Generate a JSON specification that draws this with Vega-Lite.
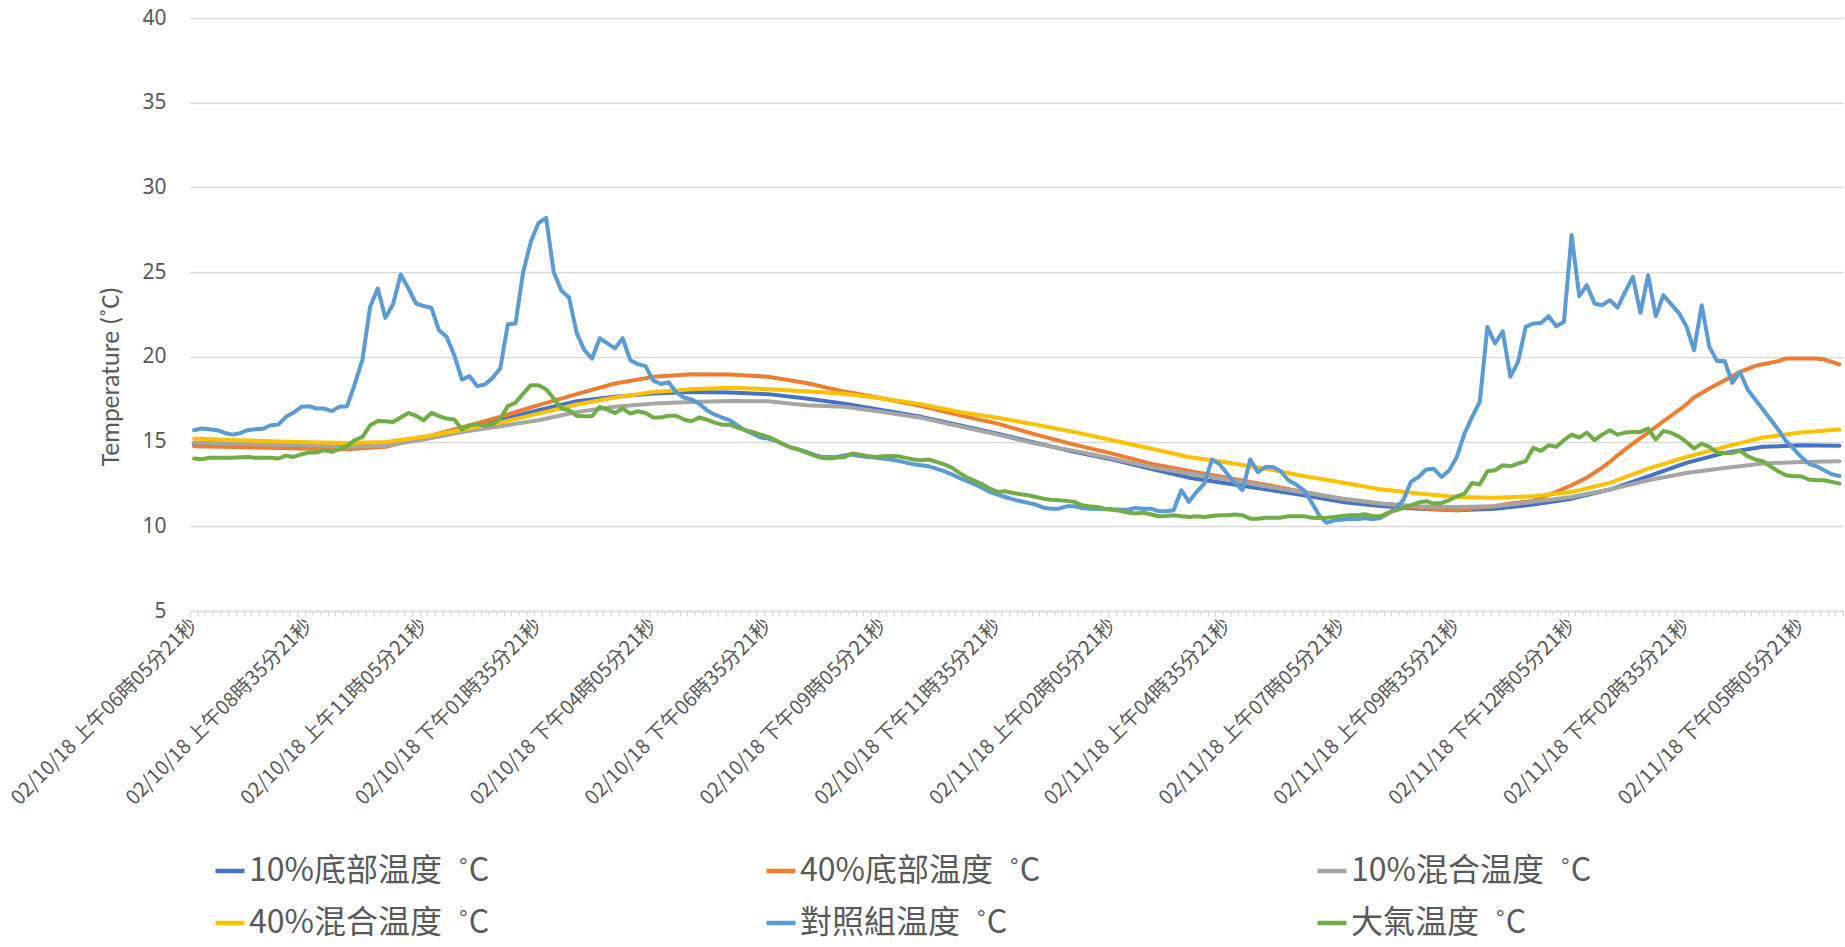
{
  "$schema": "https://vega.github.io/schema/vega-lite/v6.json",
  "autosize": {"type": "none"},
  "padding": {"left": 190, "top": 18, "right": 2, "bottom": 336},
  "width": 1653,
  "height": 593,
  "background": "white",
  "config": {"view": {"stroke": null}, "font": "Noto Sans CJK TC"},
  "data": {"values": [
    {"t":"2018-02-10T06:05:21Z","e":15.67,"f":14.0,"a":14.85,"b":14.72,"c":14.94,"d":15.18},
    {"t":"2018-02-10T06:15:21Z","e":15.77,"f":13.96},
    {"t":"2018-02-10T06:25:21Z","e":15.73,"f":14.04},
    {"t":"2018-02-10T06:35:21Z","e":15.67,"f":14.04},
    {"t":"2018-02-10T06:45:21Z","e":15.51,"f":14.04},
    {"t":"2018-02-10T06:55:21Z","e":15.41,"f":14.04,"a":14.8,"b":14.68,"c":14.88,"d":15.1},
    {"t":"2018-02-10T07:05:21Z","e":15.5,"f":14.07},
    {"t":"2018-02-10T07:15:21Z","e":15.67,"f":14.09},
    {"t":"2018-02-10T07:25:21Z","e":15.73,"f":14.05},
    {"t":"2018-02-10T07:35:21Z","e":15.75,"f":14.04},
    {"t":"2018-02-10T07:45:21Z","e":15.96,"f":14.04,"a":14.75,"b":14.63,"c":14.82,"d":15.02},
    {"t":"2018-02-10T07:55:21Z","e":16.0,"f":14.0},
    {"t":"2018-02-10T08:05:21Z","e":16.46,"f":14.17},
    {"t":"2018-02-10T08:15:21Z","e":16.71,"f":14.09},
    {"t":"2018-02-10T08:25:21Z","e":17.05,"f":14.25},
    {"t":"2018-02-10T08:35:21Z","e":17.09,"f":14.35,"a":14.7,"b":14.57,"c":14.78,"d":14.96},
    {"t":"2018-02-10T08:45:21Z","e":16.95,"f":14.35},
    {"t":"2018-02-10T08:55:21Z","e":16.95,"f":14.49},
    {"t":"2018-02-10T09:05:21Z","e":16.8,"f":14.39},
    {"t":"2018-02-10T09:15:21Z","e":17.05,"f":14.55},
    {"t":"2018-02-10T09:25:21Z","e":17.09,"f":14.74,"a":14.7,"b":14.55,"c":14.7,"d":14.92},
    {"t":"2018-02-10T09:35:21Z","e":18.4,"f":15.08},
    {"t":"2018-02-10T09:45:21Z","e":19.84,"f":15.28},
    {"t":"2018-02-10T09:55:21Z","e":22.95,"f":15.96},
    {"t":"2018-02-10T10:05:21Z","e":24.04,"f":16.22},
    {"t":"2018-02-10T10:15:21Z","e":22.3,"f":16.2,"a":14.82,"b":14.69,"c":14.76,"d":14.98},
    {"t":"2018-02-10T10:25:21Z","e":23.1,"f":16.16},
    {"t":"2018-02-10T10:35:21Z","e":24.86,"f":16.42},
    {"t":"2018-02-10T10:45:21Z","e":24.04,"f":16.69},
    {"t":"2018-02-10T10:55:21Z","e":23.15,"f":16.52},
    {"t":"2018-02-10T11:05:21Z","e":23.0,"f":16.26,"a":15.25,"b":15.24,"c":15.12,"d":15.28},
    {"t":"2018-02-10T11:15:21Z","e":22.9,"f":16.69},
    {"t":"2018-02-10T11:25:21Z","e":21.57,"f":16.5},
    {"t":"2018-02-10T11:35:21Z","e":21.18,"f":16.36},
    {"t":"2018-02-10T11:45:21Z","e":20.1,"f":16.3},
    {"t":"2018-02-10T11:55:21Z","e":18.66,"f":15.71,"a":15.77,"b":15.83,"c":15.57,"d":15.7},
    {"t":"2018-02-10T12:05:21Z","e":18.86,"f":15.96},
    {"t":"2018-02-10T12:15:21Z","e":18.27,"f":16.02},
    {"t":"2018-02-10T12:25:21Z","e":18.37,"f":15.93},
    {"t":"2018-02-10T12:35:21Z","e":18.76,"f":16.02},
    {"t":"2018-02-10T12:45:21Z","e":19.31,"f":16.36,"a":16.26,"b":16.46,"c":15.9,"d":16.12},
    {"t":"2018-02-10T12:55:21Z","e":21.93,"f":17.09},
    {"t":"2018-02-10T13:05:21Z","e":21.97,"f":17.3},
    {"t":"2018-02-10T13:15:21Z","e":25.0,"f":17.83},
    {"t":"2018-02-10T13:25:21Z","e":26.8,"f":18.33},
    {"t":"2018-02-10T13:35:21Z","e":27.9,"f":18.33,"a":16.85,"b":17.15,"c":16.26,"d":16.65},
    {"t":"2018-02-10T13:45:21Z","e":28.2,"f":18.09},
    {"t":"2018-02-10T13:55:21Z","e":25.0,"f":17.54},
    {"t":"2018-02-10T14:05:21Z","e":23.9,"f":16.95},
    {"t":"2018-02-10T14:15:21Z","e":23.5,"f":16.85},
    {"t":"2018-02-10T14:25:21Z","e":21.4,"f":16.52,"a":17.38,"b":17.8,"c":16.75,"d":17.19},
    {"t":"2018-02-10T14:35:21Z","e":20.4,"f":16.5},
    {"t":"2018-02-10T14:45:21Z","e":19.9,"f":16.5},
    {"t":"2018-02-10T14:55:21Z","e":21.1,"f":17.05},
    {"t":"2018-02-10T15:05:21Z","e":20.8,"f":16.89},
    {"t":"2018-02-10T15:15:21Z","e":20.5,"f":16.69,"a":17.64,"b":18.43,"c":17.05,"d":17.6},
    {"t":"2018-02-10T15:25:21Z","e":21.1,"f":16.95},
    {"t":"2018-02-10T15:35:21Z","e":19.8,"f":16.65},
    {"t":"2018-02-10T15:45:21Z","e":19.57,"f":16.79},
    {"t":"2018-02-10T15:55:21Z","e":19.45,"f":16.69},
    {"t":"2018-02-10T16:05:21Z","e":18.6,"f":16.42,"a":17.83,"b":18.82,"c":17.24,"d":17.93},
    {"t":"2018-02-10T16:15:21Z","e":18.4,"f":16.42},
    {"t":"2018-02-10T16:25:21Z","e":18.5,"f":16.52},
    {"t":"2018-02-10T16:35:21Z","e":17.9,"f":16.52},
    {"t":"2018-02-10T16:45:21Z","e":17.6,"f":16.3},
    {"t":"2018-02-10T16:55:21Z","e":17.48,"f":16.2,"a":17.93,"b":18.98,"c":17.34,"d":18.09},
    {"t":"2018-02-10T17:05:21Z","e":17.24,"f":16.42},
    {"t":"2018-02-10T17:15:21Z","e":16.85,"f":16.3},
    {"t":"2018-02-10T17:25:21Z","e":16.6,"f":16.12},
    {"t":"2018-02-10T17:35:21Z","e":16.42,"f":16.0},
    {"t":"2018-02-10T17:45:21Z","e":16.26,"f":16.0,"a":17.89,"b":18.96,"c":17.4,"d":18.17},
    {"t":"2018-02-10T17:55:21Z","e":15.96,"f":15.83},
    {"t":"2018-02-10T18:05:21Z","e":15.67,"f":15.67},
    {"t":"2018-02-10T18:15:21Z","e":15.47,"f":15.57},
    {"t":"2018-02-10T18:25:21Z","e":15.24,"f":15.41},
    {"t":"2018-02-10T18:35:21Z","e":15.18,"f":15.28,"a":17.8,"b":18.82,"c":17.38,"d":18.09},
    {"t":"2018-02-10T18:45:21Z","e":15.04,"f":15.08},
    {"t":"2018-02-10T18:55:21Z","e":14.84,"f":14.84},
    {"t":"2018-02-10T19:05:21Z","e":14.65,"f":14.65},
    {"t":"2018-02-10T19:15:21Z","e":14.53,"f":14.53},
    {"t":"2018-02-10T19:25:21Z","e":14.39,"f":14.35,"a":17.54,"b":18.46,"c":17.15,"d":17.97},
    {"t":"2018-02-10T19:35:21Z","e":14.23,"f":14.19},
    {"t":"2018-02-10T19:45:21Z","e":14.09,"f":14.04},
    {"t":"2018-02-10T19:55:21Z","e":14.09,"f":14.0},
    {"t":"2018-02-10T20:05:21Z","e":14.09,"f":14.06},
    {"t":"2018-02-10T20:15:21Z","e":14.2,"f":14.09,"a":17.24,"b":17.95,"c":17.05,"d":17.82},
    {"t":"2018-02-10T20:25:21Z","e":14.23,"f":14.29},
    {"t":"2018-02-10T20:35:21Z","e":14.15,"f":14.23},
    {"t":"2018-02-10T20:45:21Z","e":14.09,"f":14.15},
    {"t":"2018-02-10T20:55:21Z","e":14.06,"f":14.09},
    {"t":"2018-02-10T21:05:21Z","e":14.0,"f":14.13,"a":16.85,"b":17.54,"c":16.75,"d":17.54},
    {"t":"2018-02-10T21:15:21Z","e":13.94,"f":14.15},
    {"t":"2018-02-10T21:25:21Z","e":13.86,"f":14.13},
    {"t":"2018-02-10T21:35:21Z","e":13.76,"f":14.04},
    {"t":"2018-02-10T21:45:21Z","e":13.66,"f":13.94},
    {"t":"2018-02-10T21:55:21Z","e":13.6,"f":13.9,"a":16.46,"b":17.09,"c":16.4,"d":17.2},
    {"t":"2018-02-10T22:05:21Z","e":13.54,"f":13.94},
    {"t":"2018-02-10T22:15:21Z","e":13.4,"f":13.8},
    {"t":"2018-02-10T22:25:21Z","e":13.25,"f":13.66},
    {"t":"2018-02-10T22:35:21Z","e":13.07,"f":13.46},
    {"t":"2018-02-10T22:45:21Z","e":12.85,"f":13.15,"a":15.96,"b":16.56,"c":15.9,"d":16.75},
    {"t":"2018-02-10T22:55:21Z","e":12.66,"f":12.87},
    {"t":"2018-02-10T23:05:21Z","e":12.48,"f":12.68},
    {"t":"2018-02-10T23:15:21Z","e":12.26,"f":12.48},
    {"t":"2018-02-10T23:25:21Z","e":12.03,"f":12.22},
    {"t":"2018-02-10T23:35:21Z","e":11.87,"f":12.03,"a":15.47,"b":16.06,"c":15.41,"d":16.4},
    {"t":"2018-02-10T23:45:21Z","e":11.73,"f":12.07},
    {"t":"2018-02-10T23:55:21Z","e":11.59,"f":11.97},
    {"t":"2018-02-11T00:05:21Z","e":11.48,"f":11.89},
    {"t":"2018-02-11T00:15:21Z","e":11.38,"f":11.83},
    {"t":"2018-02-11T00:25:21Z","e":11.28,"f":11.73,"a":14.92,"b":15.41,"c":14.88,"d":16.0},
    {"t":"2018-02-11T00:35:21Z","e":11.1,"f":11.63},
    {"t":"2018-02-11T00:45:21Z","e":11.04,"f":11.57},
    {"t":"2018-02-11T00:55:21Z","e":11.04,"f":11.54},
    {"t":"2018-02-11T01:05:21Z","e":11.18,"f":11.5},
    {"t":"2018-02-11T01:15:21Z","e":11.18,"f":11.44,"a":14.39,"b":14.82,"c":14.45,"d":15.57},
    {"t":"2018-02-11T01:25:21Z","e":11.08,"f":11.24},
    {"t":"2018-02-11T01:35:21Z","e":11.04,"f":11.18},
    {"t":"2018-02-11T01:45:21Z","e":11.04,"f":11.14},
    {"t":"2018-02-11T01:55:21Z","e":11.0,"f":11.04},
    {"t":"2018-02-11T02:05:21Z","e":11.0,"f":10.98,"a":13.94,"b":14.29,"c":14.0,"d":15.08},
    {"t":"2018-02-11T02:15:21Z","e":10.98,"f":10.91},
    {"t":"2018-02-11T02:25:21Z","e":10.98,"f":10.81},
    {"t":"2018-02-11T02:35:21Z","e":11.08,"f":10.75},
    {"t":"2018-02-11T02:45:21Z","e":11.04,"f":10.81},
    {"t":"2018-02-11T02:55:21Z","e":11.04,"f":10.71,"a":13.4,"b":13.7,"c":13.5,"d":14.59},
    {"t":"2018-02-11T03:05:21Z","e":10.89,"f":10.59},
    {"t":"2018-02-11T03:15:21Z","e":10.89,"f":10.61},
    {"t":"2018-02-11T03:25:21Z","e":10.95,"f":10.65},
    {"t":"2018-02-11T03:35:21Z","e":12.13,"f":10.59},
    {"t":"2018-02-11T03:45:21Z","e":11.44,"f":10.55,"a":12.87,"b":13.27,"c":13.11,"d":14.09},
    {"t":"2018-02-11T03:55:21Z","e":12.03,"f":10.59},
    {"t":"2018-02-11T04:05:21Z","e":12.52,"f":10.55},
    {"t":"2018-02-11T04:15:21Z","e":13.94,"f":10.61},
    {"t":"2018-02-11T04:25:21Z","e":13.66,"f":10.65},
    {"t":"2018-02-11T04:35:21Z","e":13.1,"f":10.65,"a":12.52,"b":12.87,"c":12.76,"d":13.76},
    {"t":"2018-02-11T04:45:21Z","e":12.56,"f":10.69},
    {"t":"2018-02-11T04:55:21Z","e":12.13,"f":10.65},
    {"t":"2018-02-11T05:05:21Z","e":13.94,"f":10.45},
    {"t":"2018-02-11T05:15:21Z","e":13.2,"f":10.45},
    {"t":"2018-02-11T05:25:21Z","e":13.5,"f":10.51,"a":12.19,"b":12.46,"c":12.36,"d":13.4},
    {"t":"2018-02-11T05:35:21Z","e":13.5,"f":10.51},
    {"t":"2018-02-11T05:45:21Z","e":13.25,"f":10.51},
    {"t":"2018-02-11T05:55:21Z","e":12.72,"f":10.59},
    {"t":"2018-02-11T06:05:21Z","e":12.46,"f":10.59},
    {"t":"2018-02-11T06:15:21Z","e":12.13,"f":10.59,"a":11.83,"b":12.03,"c":11.99,"d":12.97},
    {"t":"2018-02-11T06:25:21Z","e":11.44,"f":10.51},
    {"t":"2018-02-11T06:35:21Z","e":10.65,"f":10.49},
    {"t":"2018-02-11T06:45:21Z","e":10.2,"f":10.51},
    {"t":"2018-02-11T06:55:21Z","e":10.35,"f":10.55},
    {"t":"2018-02-11T07:05:21Z","e":10.39,"f":10.61,"a":11.44,"b":11.63,"c":11.63,"d":12.58},
    {"t":"2018-02-11T07:15:21Z","e":10.45,"f":10.65},
    {"t":"2018-02-11T07:25:21Z","e":10.41,"f":10.65},
    {"t":"2018-02-11T07:35:21Z","e":10.49,"f":10.71},
    {"t":"2018-02-11T07:45:21Z","e":10.41,"f":10.59},
    {"t":"2018-02-11T07:55:21Z","e":10.49,"f":10.59,"a":11.2,"b":11.34,"c":11.34,"d":12.19},
    {"t":"2018-02-11T08:05:21Z","e":10.75,"f":10.79},
    {"t":"2018-02-11T08:15:21Z","e":11.04,"f":10.94},
    {"t":"2018-02-11T08:25:21Z","e":11.54,"f":11.08},
    {"t":"2018-02-11T08:35:21Z","e":12.62,"f":11.24},
    {"t":"2018-02-11T08:45:21Z","e":12.91,"f":11.4,"a":11.04,"b":11.08,"c":11.18,"d":11.93},
    {"t":"2018-02-11T08:55:21Z","e":13.35,"f":11.48},
    {"t":"2018-02-11T09:05:21Z","e":13.4,"f":11.34},
    {"t":"2018-02-11T09:15:21Z","e":12.91,"f":11.38},
    {"t":"2018-02-11T09:25:21Z","e":13.3,"f":11.54},
    {"t":"2018-02-11T09:35:21Z","e":14.09,"f":11.77,"a":10.94,"b":10.94,"c":11.14,"d":11.73},
    {"t":"2018-02-11T09:45:21Z","e":15.47,"f":11.93},
    {"t":"2018-02-11T09:55:21Z","e":16.46,"f":12.56},
    {"t":"2018-02-11T10:05:21Z","e":17.34,"f":12.46},
    {"t":"2018-02-11T10:15:21Z","e":21.77,"f":13.25},
    {"t":"2018-02-11T10:25:21Z","e":20.79,"f":13.31,"a":11.04,"b":11.2,"c":11.18,"d":11.69},
    {"t":"2018-02-11T10:35:21Z","e":21.5,"f":13.6},
    {"t":"2018-02-11T10:45:21Z","e":18.82,"f":13.54,"b":11.34},
    {"t":"2018-02-11T10:55:21Z","e":19.7,"f":13.7},
    {"t":"2018-02-11T11:05:21Z","e":21.77,"f":13.84},
    {"t":"2018-02-11T11:15:21Z","e":21.97,"f":14.63,"a":11.28,"b":11.5,"c":11.44,"d":11.77},
    {"t":"2018-02-11T11:25:21Z","e":22.0,"f":14.45},
    {"t":"2018-02-11T11:35:21Z","e":22.4,"f":14.78},
    {"t":"2018-02-11T11:45:21Z","e":21.81,"f":14.69,"b":12.03},
    {"t":"2018-02-11T11:55:21Z","e":22.07,"f":15.08},
    {"t":"2018-02-11T12:05:21Z","e":27.19,"f":15.41,"a":11.63,"b":12.42,"c":11.73,"d":12.03},
    {"t":"2018-02-11T12:15:21Z","e":23.58,"f":15.24},
    {"t":"2018-02-11T12:25:21Z","e":24.23,"f":15.53,"b":12.87},
    {"t":"2018-02-11T12:35:21Z","e":23.15,"f":15.08},
    {"t":"2018-02-11T12:45:21Z","e":23.05,"f":15.41,"b":13.46},
    {"t":"2018-02-11T12:55:21Z","e":23.35,"f":15.67,"a":12.17,"b":13.8,"c":12.17,"d":12.56},
    {"t":"2018-02-11T13:05:21Z","e":22.91,"f":15.41,"b":14.19},
    {"t":"2018-02-11T13:15:21Z","e":23.84,"f":15.53},
    {"t":"2018-02-11T13:25:21Z","e":24.72,"f":15.57,"b":14.88},
    {"t":"2018-02-11T13:35:21Z","e":22.6,"f":15.57},
    {"t":"2018-02-11T13:45:21Z","e":24.82,"f":15.77,"a":12.95,"b":15.53,"c":12.72,"d":13.4},
    {"t":"2018-02-11T13:55:21Z","e":22.4,"f":15.12},
    {"t":"2018-02-11T14:05:21Z","e":23.64,"f":15.63,"b":16.2},
    {"t":"2018-02-11T14:15:21Z","e":23.11,"f":15.51},
    {"t":"2018-02-11T14:25:21Z","e":22.6,"f":15.31,"b":16.85},
    {"t":"2018-02-11T14:35:21Z","e":21.81,"f":14.98,"a":13.74,"b":17.2,"c":13.15,"d":14.09},
    {"t":"2018-02-11T14:45:21Z","e":20.39,"f":14.59,"b":17.6},
    {"t":"2018-02-11T14:55:21Z","e":23.05,"f":14.88},
    {"t":"2018-02-11T15:05:21Z","e":20.59,"f":14.69,"b":18.13},
    {"t":"2018-02-11T15:15:21Z","e":19.76,"f":14.35},
    {"t":"2018-02-11T15:25:21Z","e":19.76,"f":14.33,"a":14.33,"b":18.62,"c":13.44,"d":14.69},
    {"t":"2018-02-11T15:35:21Z","e":18.46,"f":14.33},
    {"t":"2018-02-11T15:45:21Z","e":19.11,"f":14.45,"b":19.11},
    {"t":"2018-02-11T15:55:21Z","e":18.07,"f":14.15},
    {"t":"2018-02-11T16:05:21Z","e":17.48,"f":13.94,"b":19.47},
    {"t":"2018-02-11T16:15:21Z","e":16.89,"f":13.84,"a":14.69,"b":19.56,"c":13.7,"d":15.24},
    {"t":"2018-02-11T16:25:21Z","e":16.3,"f":13.54},
    {"t":"2018-02-11T16:35:21Z","e":15.71,"f":13.25,"b":19.75},
    {"t":"2018-02-11T16:45:21Z","e":15.04,"f":13.01,"b":19.9},
    {"t":"2018-02-11T16:55:21Z","e":14.59,"f":12.95},
    {"t":"2018-02-11T17:05:21Z","e":14.09,"f":12.95,"a":14.78,"b":19.9,"c":13.8,"d":15.53},
    {"t":"2018-02-11T17:15:21Z","e":13.7,"f":12.76},
    {"t":"2018-02-11T17:25:21Z","e":13.54,"f":12.72,"b":19.9},
    {"t":"2018-02-11T17:35:21Z","e":13.31,"f":12.72,"b":19.85},
    {"t":"2018-02-11T17:45:21Z","e":13.07,"f":12.62,"b":19.7},
    {"t":"2018-02-11T17:55:21Z","e":12.97,"f":12.52,"a":14.76,"b":19.55,"c":13.84,"d":15.71}
  ]},
  "transform": [
    {"fold": ["a", "b", "c", "d", "e", "f"], "as": ["k", "v"]},
    {"filter": "isValid(datum.v)"}
  ],
  "mark": {"type": "line", "strokeWidth": 4, "strokeJoin": "round", "strokeCap": "round"},
  "encoding": {
    "x": {
      "field": "t", "type": "temporal",
      "scale": {"type": "utc", "domain": [1518242400000, 1518372000000]},
      "axis": {
        "title": null, "grid": false,
        "domainColor": "#D9D9D9", "domainWidth": 1.3,
        "tickColor": "#D9D9D9", "tickWidth": 1.3, "tickSize": 5,
        "values": [
          1518242400000,1518243000000,1518243600000,1518244200000,1518244800000,1518245400000,
          1518246000000,1518246600000,1518247200000,1518247800000,1518248400000,1518249000000,
          1518249600000,1518250200000,1518250800000,1518251400000,1518252000000,1518252600000,
          1518253200000,1518253800000,1518254400000,1518255000000,1518255600000,1518256200000,
          1518256800000,1518257400000,1518258000000,1518258600000,1518259200000,1518259800000,
          1518260400000,1518261000000,1518261600000,1518262200000,1518262800000,1518263400000,
          1518264000000,1518264600000,1518265200000,1518265800000,1518266400000,1518267000000,
          1518267600000,1518268200000,1518268800000,1518269400000,1518270000000,1518270600000,
          1518271200000,1518271800000,1518272400000,1518273000000,1518273600000,1518274200000,
          1518274800000,1518275400000,1518276000000,1518276600000,1518277200000,1518277800000,
          1518278400000,1518279000000,1518279600000,1518280200000,1518280800000,1518281400000,
          1518282000000,1518282600000,1518283200000,1518283800000,1518284400000,1518285000000,
          1518285600000,1518286200000,1518286800000,1518287400000,1518288000000,1518288600000,
          1518289200000,1518289800000,1518290400000,1518291000000,1518291600000,1518292200000,
          1518292800000,1518293400000,1518294000000,1518294600000,1518295200000,1518295800000,
          1518296400000,1518297000000,1518297600000,1518298200000,1518298800000,1518299400000,
          1518300000000,1518300600000,1518301200000,1518301800000,1518302400000,1518303000000,
          1518303600000,1518304200000,1518304800000,1518305400000,1518306000000,1518306600000,
          1518307200000,1518307800000,1518308400000,1518309000000,1518309600000,1518310200000,
          1518310800000,1518311400000,1518312000000,1518312600000,1518313200000,1518313800000,
          1518314400000,1518315000000,1518315600000,1518316200000,1518316800000,1518317400000,
          1518318000000,1518318600000,1518319200000,1518319800000,1518320400000,1518321000000,
          1518321600000,1518322200000,1518322800000,1518323400000,1518324000000,1518324600000,
          1518325200000,1518325800000,1518326400000,1518327000000,1518327600000,1518328200000,
          1518328800000,1518329400000,1518330000000,1518330600000,1518331200000,1518331800000,
          1518332400000,1518333000000,1518333600000,1518334200000,1518334800000,1518335400000,
          1518336000000,1518336600000,1518337200000,1518337800000,1518338400000,1518339000000,
          1518339600000,1518340200000,1518340800000,1518341400000,1518342000000,1518342600000,
          1518343200000,1518343800000,1518344400000,1518345000000,1518345600000,1518346200000,
          1518346800000,1518347400000,1518348000000,1518348600000,1518349200000,1518349800000,
          1518350400000,1518351000000,1518351600000,1518352200000,1518352800000,1518353400000,
          1518354000000,1518354600000,1518355200000,1518355800000,1518356400000,1518357000000,
          1518357600000,1518358200000,1518358800000,1518359400000,1518360000000,1518360600000,
          1518361200000,1518361800000,1518362400000,1518363000000,1518363600000,1518364200000,
          1518364800000,1518365400000,1518366000000,1518366600000,1518367200000,1518367800000,
          1518368400000,1518369000000,1518369600000,1518370200000,1518370800000,1518371400000,
          1518372000000
        ],
        "labelExpr": "(time(datum.value) - 1518242400000) % 9000000 == 0 ? utcFormat(time(datum.value) + 321000, '%m/%d/%y ') + (utchours(time(datum.value)) < 12 ? '上午' : '下午') + utcFormat(time(datum.value) + 321000, '%I時%M分%S秒') : ''",
        "labelAngle": 315, "labelAlign": "right", "labelBaseline": "middle",
        "labelOffset": 3.8, "labelPadding": 6, "labelLimit": 500,
        "labelFont": "Noto Sans CJK TC", "labelFontSize": 20, "labelColor": "#595959",
        "labelOverlap": false, "labelFlush": false, "labelBound": false
      }
    },
    "y": {
      "field": "v", "type": "quantitative",
      "scale": {"domain": [5, 40], "nice": false, "zero": false},
      "axis": {
        "values": [5, 10, 15, 20, 25, 30, 35, 40],
        "title": "Temperature (˚C)",
        "grid": true, "gridColor": "#D9D9D9", "gridWidth": 1.3,
        "domain": false, "ticks": false, "tickSize": 0,
        "labelPadding": 24, "labelFont": "Noto Sans", "labelFontSize": 21, "labelColor": "#595959",
        "titleFont": "Liberation Sans Narrow, Carlito, Lato, sans-serif", "titleFontSize": 26, "titleFontWeight": "normal", "titleColor": "#595959",
        "titleX": -80, "titleY": 358, "titleAlign": "center", "titleBaseline": "middle", "titleAngle": 270
      }
    },
    "color": {
      "field": "k", "type": "nominal",
      "scale": {"domain": ["a", "b", "c", "d", "e", "f"], "range": ["#4472C4", "#ED7D31", "#A5A5A5", "#FFC000", "#5B9BD5", "#70AD47"]},
      "legend": {
        "title": null, "orient": "none", "legendX": 23, "legendY": 836, "direction": "horizontal",
        "columns": 3, "gridAlign": "all", "columnPadding": 267, "rowPadding": 19,
        "symbolType": "stroke", "symbolSize": 841, "symbolStrokeWidth": 4.5,
        "labelOffset": 2, "labelFont": "Noto Sans CJK TC", "labelFontSize": 32, "labelColor": "#595959", "labelLimit": 0,
        "labelExpr": "datum.label == 'a' ? '10%底部温度\u2002˚C' : datum.label == 'b' ? '40%底部温度\u2002˚C' : datum.label == 'c' ? '10%混合温度\u2002˚C' : datum.label == 'd' ? '40%混合温度\u2002˚C' : datum.label == 'e' ? '對照組温度\u2002˚C' : '大氣温度\u2002˚C'"
      }
    }
  }
}
